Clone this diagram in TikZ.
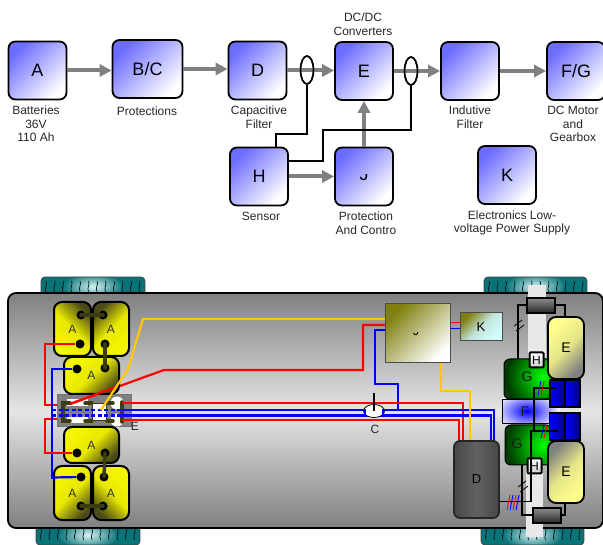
\documentclass[tikz,border=0pt]{standalone}
\usepackage{fontspec}
\setmainfont{Liberation Sans}
\usetikzlibrary{arrows.meta,shapes.geometric}
\definecolor{bluedk}{HTML}{6C6CFF}
\definecolor{bluelt}{HTML}{FFFFFF}
\definecolor{flowgray}{HTML}{808080}
\definecolor{yel}{HTML}{F6F600}
\definecolor{olive}{HTML}{4A4A18}
\definecolor{termbar}{HTML}{3C3C12}
\definecolor{wheelteal}{HTML}{087478}
\definecolor{wheellt}{HTML}{D8F4F4}
\definecolor{wred}{HTML}{FF0000}
\definecolor{wblue}{HTML}{0000FF}
\definecolor{wyel}{HTML}{FFC800}
\definecolor{striplt}{HTML}{E8E8E8}
\tikzset{
  x=1pt,y=-1pt,
  small/.style={font=\fontsize{12}{13.7}\selectfont,text=black!85,inner sep=0pt,align=center},
  block/.style={draw=black,line width=1.8pt,rounded corners=7pt,minimum width=58pt,minimum height=58pt,inner sep=0pt,
    top color=bluedk,bottom color=bluelt,shading angle=45,font=\fontsize{18}{20}\selectfont},
  flow/.style={draw=flowgray,line width=4pt,-{Triangle[length=12pt,width=12pt]}},
  sense/.style={draw=black,line width=1.5pt,ellipse,minimum width=13pt,minimum height=28pt,inner sep=0pt},
  sig/.style={draw=black,line width=1.5pt},
  batt/.style={draw=black,line width=2pt,rounded corners=8pt,inner sep=0pt,font=\fontsize{12}{14}\selectfont,text=black!80},
  term/.style={circle,fill=black,inner sep=0pt,minimum size=9pt},
  tbar/.style={draw=termbar,line width=3.5pt,line cap=round},
  rw/.style={draw=wred,line width=2.2pt},
  bw/.style={draw=wblue,line width=2.2pt},
  yw/.style={draw=wyel,line width=2.2pt},
  thin black/.style={draw=black,line width=1.5pt},
  tread/.style={draw=black!85!teal,line width=.7pt},
  comp/.style={small,text=black!85},
  big comp/.style={small,text=black!90,font=\fontsize{14}{16}\selectfont},
  brake/.style={draw=black,line width=1.8pt,top color=black!45,bottom color=black!85,inner sep=0pt},
  hbox/.style={draw=black,line width=2pt,rounded corners=1pt,top color=white,bottom color=black!20,inner sep=0pt,font=\fontsize{12}{14}\selectfont,minimum width=14pt,minimum height=15pt},
  gearb/.style={draw=black,line width=1.8pt,left color=wblue,right color=black!45!wblue,inner sep=0pt},
}
\begin{document}
\begin{tikzpicture}
\useasboundingbox (0,0) rectangle (603,545);
\clip (0,0) rectangle (603,545);
% ---------- upper block diagram
\node[block] (a) at (37.5,70.5) {A};
\node[block,minimum width=70pt] (bc) at (147.5,69) {B/C};
\node[block] (d) at (257.5,70.5) {D};
\node[block] (h) at (259,176.5) {H};
\node[block] (e) at (364,71) {E};
\node[block] (ind) at (470,71) {};
\node[block] (fg) at (576,71) {F/G};
\node[block] (j) at (364,176.5) {};
\node[block] (k) at (507,175) {K};
\begin{scope}
  \clip (355,175) rectangle (373,183);
  \node[font=\fontsize{18}{20}\selectfont,inner sep=0pt] (jl) at (364,174.5) {J};
\end{scope}
\node[sense] (s1) at (307,70) {};
\node[sense] (s2) at (411,71) {};
\draw[flow] (a.east) -- (bc.west |- a.east);
\draw[flow] (bc.east) -- (d.west |- bc.east);
\draw[flow] (d.east) -- (e.west |- d.east);
\draw[flow] (e.east) -- (ind.west);
\draw[flow] (ind.east) -- (fg.west);
\draw[flow] (h.east) -- (j.west);
\draw[flow] (j.north) -- (e.south);
\node[sense] at (307,70) {};
\node[sense] at (411,71) {};
\draw[sig] (s1.south) |- (276,134) -- (h.north -| 276,0);
\draw[sig] (s2.south) |- (323,130) |- (h.east |- 0,161);
\node[small] (la) at (36,124) {Batteries\\36V\\110 Ah};
\node[small] (lbc) at (147,111) {Protections};
\node[small] (ld) at (259,117) {Capacitive\\Filter};
\node[small] (lh) at (261,216) {Sensor};
\node[small] (le) at (363,24) {DC/DC\\Converters};
\node[small] (lind) at (470,117) {Indutive\\Filter};
\node[small] (lfg) at (573,124) {DC Motor\\and\\Gearbox};
\node[small] (lj) at (366,223) {Protection\\And Contro};
\node[small] (lk) at (512,223) {Electronics Low-\\voltage Power Supply};
% ---------- wheels
\foreach \xa/\ya/\xb/\yb in {41/277/145/296,484/277/587/296,36/525/140/545,481/525/584/545}{
  \begin{scope}
    \clip[rounded corners=4pt] (\xa,\ya) rectangle (\xb,\yb);
    \fill[wheelteal] (\xa,\ya) rectangle (\xb,\yb);
    \pgfmathsetmacro{\cxx}{(\xa+\xb)/2}
    \pgfmathsetmacro{\cyy}{(\ya+\yb)/2}
    \shade[inner color=wheellt,outer color=wheelteal] (\cxx,\cyy) ellipse (30 and 14);
  \end{scope}
  \draw[black!75,line width=.8pt,rounded corners=4pt] (\xa,\ya) rectangle (\xb,\yb);
  \foreach \i in {0,...,11}{
    \pgfmathsetmacro{\xx}{\xa+5+\i*8.5}
    \draw[tread] (\xx,\ya+4) .. controls (\xx+2,\ya+7) and (\xx-2,\ya+10) .. (\xx,\ya+15);
  }
}
% ---------- chassis
\draw[line width=1.8pt,draw=black,rounded corners=8pt,top color=flowgray,bottom color=flowgray,middle color=black!10]
  (8,293) rectangle (603,528);
\fill[striplt] (528,285) rectangle (546,415);
\fill[striplt] (526,470) rectangle (543,537);
% ---------- wires under parts
\draw[rw] (80,344) -- (45,344) -- (45,405) -- (65,405);
\draw[rw] (77,453) -- (45,453) -- (45,419) -- (65,419);
\draw[bw] (77,369) -- (52,369) -- (52,478) -- (81,478);
% ---------- junction box
\node[draw=black!55,line width=1pt,fill=flowgray,minimum width=74pt,minimum height=32pt,inner sep=0pt] (ebox) at (94,411) {};
\node[fill=white,minimum width=21pt,minimum height=7pt,inner sep=0pt] (w1) at (77.5,402.5) {};
\node[fill=white,minimum width=21pt,minimum height=6pt,inner sep=0pt] (w2) at (77.5,420) {};
\node[fill=white,draw=termbar,line width=.6pt,minimum width=14pt,minimum height=17pt,inner sep=0pt] (w3) at (99,411.5) {};
\node[fill=white,circle,minimum size=13pt,inner sep=0pt] (c1) at (117,403) {};
\node[fill=white,circle,minimum size=13pt,inner sep=0pt] (c2) at (117,420) {};
\draw[tbar] (70,403) -- (63,403) -- (63,421) -- (70,421);
\draw[tbar] (85,403) -- (92,403);
\draw[tbar] (85,421) -- (92,421);
\draw[tbar] (107,403) -- (113,403);
\draw[tbar] (107,421) -- (113,421);
\draw[tbar] (122,402) -- (122,422);
\draw[bw,dash pattern=on 4pt off 2.5pt] (52,410) -- (122,410);
\draw[bw,dash pattern=on 4pt off 2.5pt] (52,415.5) -- (122,415.5);
\node[comp] (le2) at (135,426) {E};
% ---------- main wires
\draw[rw] (70,404) -- (164,370) -- (363,370) -- (363,325) -- (386,325);
\draw[bw] (386,330) -- (375,330) -- (375,384) -- (398,384) -- (398,410);
\draw[rw] (122,403) -- (463,403) -- (463,441);
\draw[rw] (122,420) -- (459,420) -- (459,441);
\draw[bw] (122,410) -- (494,410) -- (494,441);
\draw[bw] (122,415.5) -- (491,415.5) -- (491,441);
% ---------- batteries
\node[batt,minimum width=37pt,minimum height=54pt,top color=olive,bottom color=yel,middle color=yel!92!olive,shading angle=-45] (a1) at (72.5,329) {A};
\node[batt,minimum width=36pt,minimum height=54pt,top color=olive,bottom color=yel,middle color=yel!92!olive,shading angle=45] (a2) at (111,329) {A};
\node[batt,minimum width=55pt,minimum height=37pt,top color=yel,bottom color=olive,middle color=yel!92!olive,shading angle=45] (a3) at (91.5,375.5) {A};
\node[batt,minimum width=55pt,minimum height=36pt,top color=yel,bottom color=olive,middle color=yel!92!olive,shading angle=45] (a4) at (91.5,445) {A};
\node[batt,minimum width=37pt,minimum height=54pt,top color=yel,bottom color=olive,middle color=yel!92!olive,shading angle=45] (a5) at (72.5,493) {A};
\node[batt,minimum width=36pt,minimum height=54pt,top color=yel,bottom color=olive,middle color=yel!92!olive,shading angle=-45] (a6) at (111,493) {A};
\foreach \n/\px/\py in {t1/81/315,t2/103/315,t3/80/344,t4/105/344,t5/77/369,t6/105/368,t7/77/453,t8/105/453,t9/81/477,t10/104/477,t11/81/506,t12/103/506}{
  \node[term] (\n) at (\px,\py) {};
}
\draw[tbar] (t1.center) -- (t2.center);
\draw[tbar] (t4.center) -- (t6.center);
\draw[tbar] (t8.center) -- (t10.center);
\draw[tbar] (t11.center) -- (t12.center);
\draw[rw] (t3) -- (45,344);
\draw[rw] (t7) -- (45,453);
\draw[bw] (t5) -- (52,369);
\draw[bw] (t9) -- (52,477.5);
\draw[rw] (70,404) -- (116,387);
\draw[yw] (386,319) -- (143,319) -- (128,369) -- (101,410);
\draw[yw] (441,363) -- (441,391) -- (470,391) -- (470,441);
% ---------- current sensor
\node[draw=black,line width=.8pt,fill=white,ellipse,minimum width=21pt,minimum height=13pt,inner sep=0pt] (cs) at (374,411) {};
\draw[wblue,line width=1.5pt] (365,409) -- (365,415) (383,409) -- (383,415);
\draw[black,line width=1.5pt] (374,393) -- (cs.center);
\node[comp] (lc) at (375,429) {C};
% ---------- controller, K
\node[draw=black!70,line width=1pt,top color=olive!70!yellow,bottom color=white,shading angle=45,minimum width=65pt,minimum height=59pt,inner sep=0pt] (jbox) at (418,333.5) {};
\begin{scope}
  \clip (410,333) rectangle (424,338);
  \node[font=\fontsize{12}{14}\selectfont,inner sep=0pt] (jlab) at (416,331.5) {J};
\end{scope}
\node[draw=black!70,line width=1pt,top color=olive!70!yellow,bottom color=cyan!18,middle color=cyan!15!white!85!olive,shading angle=45,minimum width=42pt,minimum height=28pt,inner sep=0pt,font=\fontsize{13}{15}\selectfont] (kbox) at (481,327) {K};
\draw[wred,line width=.7pt] (450.5,322) -- (kbox.west |- 0,322);
\draw[wblue,line width=.7pt] (450.5,328) -- (kbox.west |- 0,328);
% ---------- driver
\node[draw=black!85,line width=1.8pt,rounded corners=6pt,left color=black!72,right color=black!72,middle color=black!62,minimum width=45pt,minimum height=77pt,inner sep=0pt,font=\fontsize{13}{15}\selectfont] (dbox) at (476.5,479.5) {D};
% ---------- motor group
\begin{scope}
  \clip (502,399) rectangle (560,423);
  \fill[white] (502,399) rectangle (560,423);
  \shade[inner color=wblue,outer color=white] (527,411) ellipse (34 and 20);
\end{scope}
\draw[black,line width=.7pt] (560,399) -- (502,399) -- (502,423) -- (560,423);
\node[big comp] (lf) at (525,412) {F};
\begin{scope}
  \clip[rounded corners=6pt] (504,359) rectangle (552,399);
  \fill[black!75!green] (504,359) rectangle (552,399);
  \shade[inner color=green,outer color=black!80!green] (543,377) circle (38);
\end{scope}
\draw[black,line width=1pt,rounded corners=6pt] (504,359) rectangle (552,399);
\begin{scope}
  \clip[rounded corners=6pt] (505,425) rectangle (552,465);
  \fill[black!75!green] (505,425) rectangle (552,465);
  \shade[inner color=green,outer color=black!80!green] (543,445) circle (38);
\end{scope}
\draw[black,line width=1pt,rounded corners=6pt] (505,425) rectangle (552,465);
\node[big comp] (lg1) at (527,377) {G};
\node[big comp] (lg2) at (517,444) {G};
\draw[thin black] (518,359) -- (518,305) -- (527,305);
\draw[thin black] (555,305) -- (565,305) -- (565,317);
\draw[thin black] (522,465) -- (522,515) -- (533,515);
\draw[thin black] (561,515) -- (565,515) -- (565,503);
\draw[black,line width=.8pt] (514,326) -- (522,320) (516,331) -- (524,325);
\draw[black,line width=.8pt] (518,487) -- (526,481) (520,492) -- (528,486);
\node[gearb,minimum width=15pt,minimum height=27pt] (g1) at (557.5,393.5) {};
\node[gearb,minimum width=15pt,minimum height=27pt] (g2) at (572.5,393.5) {};
\node[gearb,minimum width=15pt,minimum height=27pt] (g3) at (557,426.5) {};
\node[gearb,minimum width=15pt,minimum height=27pt] (g4) at (572.5,426.5) {};
\node[draw=black,line width=1.8pt,rounded corners=8pt,top color=yellow!45,bottom color=black!50,middle color=yellow!40!white!90!black,shading angle=45,minimum width=36pt,minimum height=62pt,inner sep=0pt,font=\fontsize{14}{16}\selectfont] (e1) at (566,348) {E};
\node[draw=black,line width=1.8pt,rounded corners=8pt,top color=black!50,bottom color=yellow!45,middle color=yellow!40!white!90!black,shading angle=45,minimum width=36pt,minimum height=62pt,inner sep=0pt,font=\fontsize{14}{16}\selectfont] (e2) at (566,472) {E};
\node[brake,minimum width=28pt,minimum height=15pt] (b1) at (541,305.5) {};
\node[brake,minimum width=28pt,minimum height=15pt] (b2) at (547,515.5) {};
\node[hbox] (h1) at (536.5,360) {H};
\node[hbox] (h2) at (534.5,466) {H};
% ---------- power to motors
\draw[thin black] (dbox.east |- 0,501.7) -- (531,501.7) -- (531,431) -- (558,431);
\draw[thin black] (534,431) -- (534,388) -- (556,388);
\foreach \cx/\cc in {507/wred,510/wblue,513/wred,516/wblue}{
  \draw[\cc,line width=.9pt] (\cx,510) -- (\cx+3,495);
}
\draw[wblue,line width=.9pt] (538,395) -- (541,381);
\draw[wred,line width=.9pt] (541,395) -- (544,381);
\draw[wblue,line width=.9pt] (541,438) -- (544,425);
\draw[wred,line width=.9pt] (544,438) -- (547,425);
\end{tikzpicture}
\end{document}
